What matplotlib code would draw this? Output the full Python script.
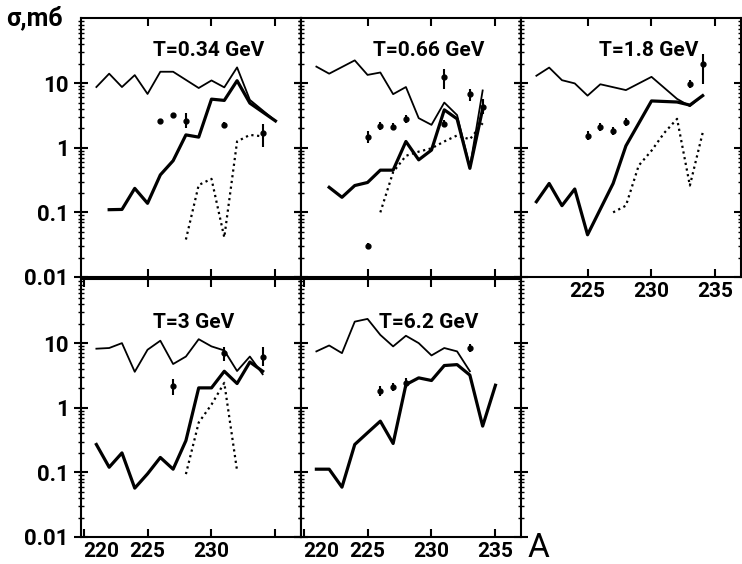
import matplotlib
matplotlib.use("Agg")
import matplotlib.pyplot as plt
from matplotlib.ticker import LogLocator, NullFormatter, FixedLocator

plt.rcParams['font.family'] = ['Roboto', 'DejaVu Sans']

# ---- data (A = mass number, sigma in mb) ----
# T = 0.34 GeV
up_A_034 = [221, 222, 223, 224, 225, 226, 227, 229, 230, 231, 232, 233, 235]
up_v_034 = [8.7, 14, 8.7, 13.3, 6.8, 15, 15, 8.4, 11, 8.6, 17.5, 5.5, 2.6]
th_A_034 = [222, 223, 224, 225, 226, 227, 228, 229, 230, 231, 232, 233, 235]
th_v_034 = [0.11, 0.111, 0.235, 0.138, 0.38, 0.63, 1.58, 1.46, 5.65, 5.4, 10.9, 4.9, 2.6]
dot_A_034 = [228, 229, 230, 231, 232, 233, 234]
dot_v_034 = [0.038, 0.265, 0.33, 0.041, 1.25, 1.58, 1.5]
exp_A_034 = [226, 227, 228, 231, 234]
exp_v_034 = [2.55, 3.2, 2.6, 2.26, 1.72]
exp_lo_034 = [2.3, 2.9, 2.0, 2.05, 1.04]
exp_hi_034 = [2.8, 3.5, 3.4, 2.5, 2.35]

# T = 0.66 GeV
up_A_066 = [221, 222, 224, 225, 226, 227, 228, 229, 230, 231, 232, 233, 234]
up_v_066 = [18, 14, 22.5, 13.4, 14.6, 6.75, 8.7, 2.87, 2.26, 5.0, 3.2, 0.5, 7.7]
th_A_066 = [222, 223, 224, 225, 226, 227, 228, 229, 230, 231, 232, 233, 234]
th_v_066 = [0.244, 0.171, 0.26, 0.29, 0.45, 0.45, 1.25, 0.65, 0.92, 3.86, 2.8, 0.48, 4.0]
dot_A_066 = [226, 227, 228, 229, 230, 231, 232, 233, 234]
dot_v_066 = [0.1, 0.42, 0.75, 0.87, 0.98, 1.25, 1.55, 1.35, 2.4]
exp_A_066 = [225, 225, 226, 227, 228, 231, 231, 233, 234]
exp_v_066 = [0.03, 1.49, 2.18, 2.13, 2.77, 2.35, 12.6, 6.9, 4.3]
exp_lo_066 = [0.027, 1.2, 1.9, 1.85, 2.4, 2.1, 8.2, 5.3, 3.3]
exp_hi_066 = [0.034, 1.8, 2.5, 2.45, 3.2, 2.7, 16.6, 8.1, 5.7]

# T = 1.8 GeV
up_A_18 = [221, 222, 223, 224, 225, 226, 228, 230, 232, 233, 234]
up_v_18 = [13, 17.4, 11.1, 9.9, 6.4, 9.6, 7.8, 12.5, 5.7, 4.4, 6.4]
th_A_18 = [221, 222, 223, 224, 225, 227, 228, 230, 232, 233, 234]
th_v_18 = [0.146, 0.28, 0.127, 0.23, 0.045, 0.28, 1.07, 5.3, 5.1, 4.57, 6.4]
dot_A_18 = [227, 228, 229, 230, 231, 232, 233, 234]
dot_v_18 = [0.1, 0.127, 0.53, 0.9, 1.7, 2.8, 0.26, 1.7]
exp_A_18 = [225, 226, 227, 228, 233, 234]
exp_v_18 = [1.53, 2.06, 1.83, 2.52, 9.7, 19.5]
exp_lo_18 = [1.3, 1.8, 1.6, 2.2, 8.5, 9.7]
exp_hi_18 = [1.8, 2.4, 2.1, 2.9, 11, 28]

# T = 3 GeV
up_A_3 = [221, 222, 223, 224, 225, 226, 227, 228, 229, 230, 231, 232, 233, 234]
up_v_3 = [8.2, 8.4, 10, 3.6, 7.9, 10.9, 4.75, 6.2, 11.5, 8.9, 7.7, 3.7, 6.2, 3.3]
th_A_3 = [221, 222, 223, 224, 225, 226, 227, 228, 229, 230, 231, 232, 233, 234]
th_v_3 = [0.27, 0.12, 0.2, 0.057, 0.095, 0.17, 0.112, 0.31, 2.03, 2.03, 3.67, 2.37, 5.1, 3.67]
dot_A_3 = [228, 229, 230, 231, 232]
dot_v_3 = [0.094, 0.59, 1.12, 2.43, 0.106]
exp_A_3 = [227, 231, 234]
exp_v_3 = [2.15, 7.0, 6.2]
exp_lo_3 = [1.6, 5.2, 4.4]
exp_hi_3 = [2.8, 8.7, 8.6]

# T = 6.2 GeV
up_A_62 = [221, 222, 223, 224, 225, 226, 227, 228, 229, 230, 231, 232, 233]
up_v_62 = [7.45, 9.2, 7.0, 21.5, 23.7, 13.4, 8.9, 13, 10, 6.45, 8.4, 7.45, 3.67]
th_A_62 = [221, 222, 223, 224, 225, 226, 227, 228, 229, 230, 231, 232, 233, 234, 235]
th_v_62 = [0.112, 0.112, 0.059, 0.27, 0.41, 0.62, 0.28, 2.28, 2.9, 2.64, 4.5, 4.65, 3.2, 0.52, 2.23]
exp_A_62 = [226, 227, 228, 233]
exp_v_62 = [1.8, 2.08, 2.43, 8.4]
exp_lo_62 = [1.5, 1.8, 2.0, 7.2]
exp_hi_62 = [2.2, 2.4, 2.9, 9.8]

titles = ['T=0.34 GeV', 'T=0.66 GeV', 'T=1.8 GeV', 'T=3 GeV', 'T=6.2 GeV']
ytick_vals = [0.01, 0.1, 1, 10]
ytick_labels = ['0.01', '0.1', '1', '10']

fig = plt.figure(figsize=(7.42, 5.64), dpi=100)

W = 0.2965
lefts = [0.1092, 0.4057, 0.7022]
bot_top, bot_bot, H = 0.5089, 0.0479, 0.4583

panels = [
    (lefts[0], bot_top, up_A_034, up_v_034, th_A_034, th_v_034, dot_A_034, dot_v_034,
     exp_A_034, exp_v_034, exp_lo_034, exp_hi_034),
    (lefts[1], bot_top, up_A_066, up_v_066, th_A_066, th_v_066, dot_A_066, dot_v_066,
     exp_A_066, exp_v_066, exp_lo_066, exp_hi_066),
    (lefts[2], bot_top, up_A_18, up_v_18, th_A_18, th_v_18, dot_A_18, dot_v_18,
     exp_A_18, exp_v_18, exp_lo_18, exp_hi_18),
    (lefts[0], bot_bot, up_A_3, up_v_3, th_A_3, th_v_3, dot_A_3, dot_v_3,
     exp_A_3, exp_v_3, exp_lo_3, exp_hi_3),
    (lefts[1], bot_bot, up_A_62, up_v_62, th_A_62, th_v_62, None, None,
     exp_A_62, exp_v_62, exp_lo_62, exp_hi_62),
]

title_y = [0.875, 0.875, 0.875, 0.83, 0.83]

for i, p in enumerate(panels):
    x0, y0, uA, uv, tA, tv, dA, dv, eA, ev, elo, ehi = p
    ax = fig.add_axes([x0, y0, W, H])
    ax.set_yscale('log')
    ax.set_xlim(219.8, 237)
    ax.set_ylim(0.01, 100)

    ax.plot(uA, uv, color='black', lw=1.3)
    ax.plot(tA, tv, color='black', lw=2.3)
    if dA is not None:
        ax.plot(dA, dv, color='black', lw=1.6, linestyle=(0, (1, 1.6)))
    yerr = [[v - lo for v, lo in zip(ev, elo)], [hi - v for v, hi in zip(ev, ehi)]]
    ax.errorbar(eA, ev, yerr=yerr, fmt='o', color='black', ms=3.5, elinewidth=1.5, capsize=0)

    ax.text(0.58 if i != 3 else 0.51, title_y[i], titles[i], transform=ax.transAxes,
            ha='center', va='center', fontsize=15, fontweight='bold')

    for s in ax.spines.values():
        s.set_linewidth(1.5)

    # y ticks
    ax.yaxis.set_major_locator(FixedLocator(ytick_vals))
    ax.yaxis.set_minor_locator(LogLocator(base=10, subs=range(2, 10)))
    ax.yaxis.set_minor_formatter(NullFormatter())
    ax.tick_params(axis='y', which='major', direction='inout', length=10, width=1.5,
                   left=True, right=True)
    ax.tick_params(axis='y', which='minor', direction='inout', length=4, width=1.0,
                   left=True, right=True)
    if x0 == lefts[0]:
        ax.set_yticklabels(ytick_labels, fontsize=16, fontweight='bold')
        ax.tick_params(axis='y', pad=4)
    else:
        ax.set_yticklabels([])

    # x ticks
    ax.tick_params(axis='x', which='both', direction='in', length=6, width=1.5,
                   top=True, bottom=True)
    if i in (3, 4):
        xt = [220, 225, 230] if i == 3 else [220, 225, 230, 235]
        ax.set_xticks([220, 225, 230, 235])
        ax.set_xticklabels([str(t) if t in xt else '' for t in [220, 225, 230, 235]],
                           fontsize=15, fontweight='bold')
        ax.get_xticklabels()[0].set_horizontalalignment('left')
    elif i == 2:
        ax.set_xticks([225, 230, 235])
        ax.set_xticklabels(['225', '230', '235'], fontsize=15, fontweight='bold')
    else:
        ax.set_xticks([225, 230, 235])
        ax.set_xticklabels([])

fig.text(0.008, 0.968, 'σ,mб', fontsize=18, fontweight='bold', ha='left', va='center')
fig.text(0.726, 0.028, 'A', fontsize=24, ha='center', va='center')

fig.savefig('out.png', dpi=100)
